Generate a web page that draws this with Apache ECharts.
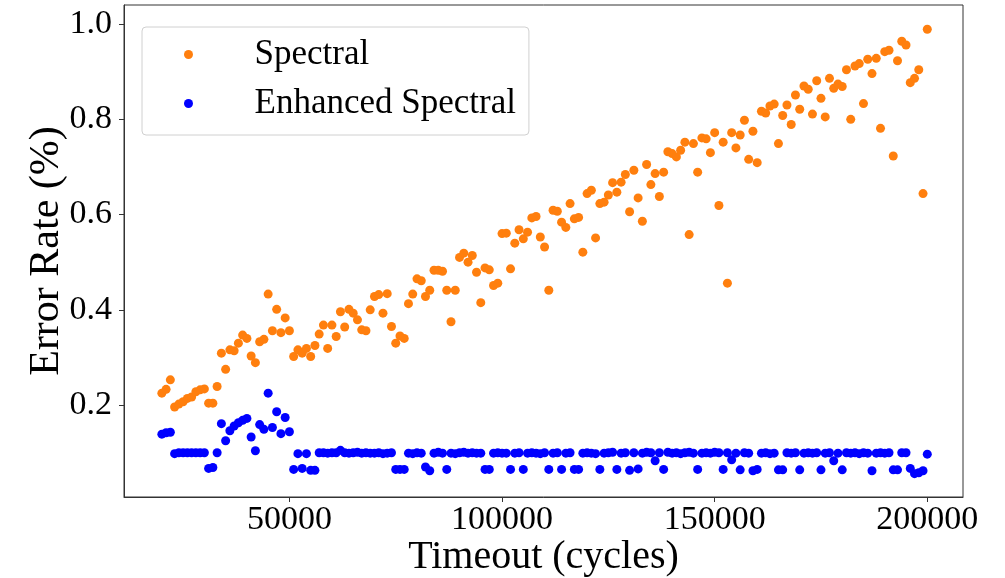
<!DOCTYPE html>
<html>
<head>
<meta charset="utf-8">
<script src="https://cdn.jsdelivr.net/npm/echarts@6/dist/echarts.min.js"></script>
<style>
html,body{margin:0;padding:0;background:#fff;}
#chart{width:1005px;height:578px;}
</style>
</head>
<body>
<div id="chart"></div>
<script>
// Timeout sweep (cycles): 20000 .. 200000, one run every 1000 cycles
var TIMEOUT_FIRST = 20000;
var TIMEOUT_STEP = 1000;

// Error rate of "Spectral" at each timeout
var spectral = [
  0.225,0.233,0.253,0.196,0.202,0.207,0.214,0.217,0.228,0.232,
  0.234,0.204,0.204,0.239,0.309,0.275,0.316,0.314,0.330,0.347,
  0.340,0.303,0.289,0.333,0.338,0.433,0.356,0.401,0.352,0.383,
  0.356,0.302,0.316,0.309,0.319,0.302,0.325,0.349,0.368,0.319,
  0.368,0.344,0.396,0.364,0.401,0.393,0.379,0.358,0.356,0.400,
  0.428,0.432,0.393,0.434,0.365,0.330,0.345,0.340,0.413,0.433,
  0.465,0.461,0.428,0.441,0.483,0.483,0.481,0.441,0.375,0.441,
  0.510,0.519,0.500,0.514,0.479,0.415,0.488,0.484,0.451,0.456,
  0.560,0.561,0.486,0.540,0.568,0.549,0.563,0.593,0.596,0.553,
  0.532,0.441,0.609,0.607,0.584,0.573,0.623,0.591,0.594,0.521,
  0.644,0.651,0.551,0.623,0.626,0.641,0.667,0.647,0.668,0.684,
  0.606,0.693,0.635,0.586,0.705,0.663,0.686,0.638,0.689,0.732,
  0.728,0.721,0.735,0.752,0.558,0.749,0.689,0.761,0.759,0.730,
  0.772,0.619,0.752,0.456,0.772,0.740,0.767,0.798,0.716,0.775,
  0.709,0.817,0.813,0.828,0.832,0.749,0.808,0.830,0.789,0.851,
  0.821,0.870,0.863,0.811,0.881,0.844,0.805,0.886,0.865,0.874,
  0.869,0.904,0.800,0.912,0.917,0.833,0.926,0.896,0.928,0.781,
  0.942,0.945,0.723,0.923,0.964,0.956,0.877,0.886,0.904,0.644,
  0.989
];

// Error rate of "Enhanced Spectral" at each timeout
var enhanced = [
  0.139,0.142,0.143,0.098,0.100,0.100,0.100,0.100,0.100,0.100,
  0.100,0.067,0.069,0.100,0.161,0.125,0.146,0.156,0.163,0.168,
  0.172,0.133,0.104,0.159,0.149,0.225,0.153,0.186,0.140,0.174,
  0.144,0.065,0.098,0.067,0.098,0.063,0.063,0.100,0.100,0.099,
  0.100,0.100,0.105,0.100,0.099,0.100,0.101,0.099,0.100,0.099,
  0.099,0.100,0.098,0.099,0.100,0.065,0.065,0.065,0.099,0.098,
  0.100,0.099,0.070,0.062,0.099,0.101,0.099,0.065,0.099,0.098,
  0.100,0.101,0.099,0.100,0.099,0.099,0.065,0.065,0.099,0.100,
  0.099,0.099,0.065,0.099,0.100,0.065,0.099,0.100,0.099,0.098,
  0.100,0.065,0.099,0.100,0.065,0.099,0.100,0.065,0.065,0.099,
  0.100,0.099,0.098,0.065,0.099,0.100,0.101,0.065,0.099,0.100,
  0.063,0.100,0.066,0.099,0.101,0.100,0.083,0.100,0.065,0.101,
  0.099,0.100,0.098,0.100,0.101,0.099,0.065,0.099,0.100,0.099,
  0.101,0.100,0.065,0.100,0.085,0.099,0.064,0.100,0.099,0.062,
  0.065,0.099,0.100,0.098,0.099,0.064,0.064,0.100,0.099,0.100,
  0.064,0.099,0.100,0.099,0.100,0.064,0.099,0.100,0.083,0.099,
  0.064,0.100,0.099,0.100,0.098,0.100,0.099,0.062,0.099,0.100,
  0.099,0.100,0.064,0.064,0.100,0.100,0.067,0.056,0.058,0.062,
  0.097
];

var xTicks = [50000, 100000, 150000, 200000];
var yTicks = [0.2, 0.4, 0.6, 0.8, 1.0];

function pairs(vals) {
  var out = [];
  for (var i = 0; i < vals.length; i++) {
    out.push([TIMEOUT_FIRST + i * TIMEOUT_STEP, vals[i]]);
  }
  return out;
}

var FONT = "'Liberation Serif', 'DejaVu Serif', serif";
var AXIS_COLOR = '#333';

var chart = echarts.init(document.getElementById('chart'), null, {renderer: 'canvas'});
chart.setOption({
  animation: false,
  backgroundColor: '#fff',
  grid: {
    left: 124, right: 42, top: 5, bottom: 81,
    containLabel: false,
    outerBoundsMode: 'none',
    show: true, borderColor: AXIS_COLOR, borderWidth: 1, backgroundColor: 'transparent'
  },
  legend: {
    data: ['Spectral', 'Enhanced Spectral'],
    orient: 'vertical',
    left: 142, top: 27,
    padding: [10, 13, 14, 42],
    itemWidth: 16, itemHeight: 9, itemGap: 14,
    icon: 'circle',
    backgroundColor: '#fff',
    borderColor: '#d0d0d0', borderWidth: 1, borderRadius: 4,
    textStyle: {fontFamily: FONT, fontSize: 35, color: '#000', padding: [0, 0, 0, 53]}
  },
  xAxis: {
    type: 'value',
    min: 11100, max: 208400,
    name: 'Timeout (cycles)',
    nameLocation: 'middle',
    nameGap: 40,
    nameMoveOverlap: false,
    nameTextStyle: {fontFamily: FONT, fontSize: 40, color: '#000'},
    axisLine: {show: true, lineStyle: {color: AXIS_COLOR, width: 1}},
    axisTick: {show: true, length: 5, customValues: xTicks, lineStyle: {color: AXIS_COLOR}},
    axisLabel: {customValues: xTicks, fontFamily: FONT, fontSize: 34, color: '#000', margin: 6,
      formatter: function (v) { return String(v); }},
    splitLine: {show: false}
  },
  yAxis: {
    type: 'value',
    min: 0.007, max: 1.04,
    name: 'Error Rate (%)',
    nameLocation: 'middle',
    nameGap: 56,
    nameMoveOverlap: false,
    nameRotate: 90,
    nameTextStyle: {fontFamily: FONT, fontSize: 42, color: '#000'},
    axisLine: {show: true, lineStyle: {color: AXIS_COLOR, width: 1}},
    axisTick: {show: true, length: 5, customValues: yTicks, lineStyle: {color: AXIS_COLOR}},
    axisLabel: {customValues: yTicks, fontFamily: FONT, fontSize: 34, color: '#000', margin: 12,
      formatter: function (v) { return v.toFixed(1); }},
    splitLine: {show: false}
  },
  series: [
    {
      name: 'Spectral', type: 'scatter', symbol: 'circle', symbolSize: 9,
      itemStyle: {color: '#ff7f0e', opacity: 1},
      data: pairs(spectral)
    },
    {
      name: 'Enhanced Spectral', type: 'scatter', symbol: 'circle', symbolSize: 9,
      itemStyle: {color: '#0000ff', opacity: 1},
      data: pairs(enhanced)
    }
  ]
});
</script>
</body>
</html>
